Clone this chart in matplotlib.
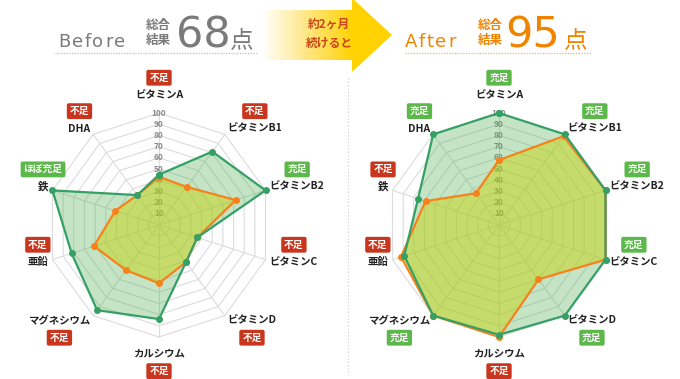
"""
Before / After nutrient radar charts (10 nutrients).
"""

import numpy as np
import matplotlib.pyplot as plt
from matplotlib.patches import Polygon
from matplotlib.colors import LinearSegmentedColormap

plt.rcParams["font.family"] = ["Noto Sans CJK JP", "DejaVu Sans"]

# --- data ---
categories = ["ビタミンA", "ビタミンB1", "ビタミンB2", "ビタミンC", "ビタミンD",
              "カルシウム", "マグネシウム", "亜鉛", "鉄", "DHA"]
ticks = [10, 20, 30, 40, 50, 60, 70, 80, 90, 100]

before_green = [45, 81, 100, 36, 41, 84, 94, 82, 100, 33]
before_orange = [43, 42, 72, 36, 41, 52, 50, 61, 41, 33]
before_badges = ["不足", "不足", "充足", "不足", "不足", "不足", "不足", "不足", "ほぼ充足", "不足"]

after_green = [100, 100, 100, 100, 100, 98, 100, 89, 76, 100]
after_orange = [58, 98, 100, 100, 60, 100, 100, 92, 69, 35]
after_badges = ["充足", "充足", "充足", "充足", "充足", "不足", "充足", "不足", "不足", "充足"]

before_score = "68"
after_score = "95"

GREEN = "#35a065"
ORANGE = "#f7821b"
BADGE_RED = "#c8361e"
BADGE_GREEN = "#5cb84a"

W, H = 680, 379
fig = plt.figure(figsize=(W / 100, H / 100), dpi=100)

# background axes in pixel units for header / arrow
bg = fig.add_axes([0, 0, 1, 1])
bg.axis("off")


def xy(values):
    ang = np.deg2rad(np.arange(len(values)) * 36.0)
    v = np.asarray(values, dtype=float)
    return v * np.sin(ang), v * np.cos(ang)


def radar(cx, cy, green, orange, badges):
    half = 150  # px
    scale = 112 / 100  # px per unit
    ax = fig.add_axes([(cx - half) / W, (H - cy - half) / H, 2 * half / W, 2 * half / H])
    lim = half / scale
    ax.set_xlim(-lim, lim)
    ax.set_ylim(-lim, lim)
    ax.axis("off")

    n = len(categories)
    # grid rings and spokes
    for t in ticks:
        gx, gy = xy([t] * n)
        ax.plot(np.append(gx, gx[0]), np.append(gy, gy[0]), color="#dcdcdc", lw=0.8, zorder=1)
    ox, oy = xy([100] * n)
    for i in range(n):
        ax.plot([0, ox[i]], [0, oy[i]], color="#dcdcdc", lw=0.8, zorder=1)
    for t in ticks:
        ax.text(0, t, str(t), ha="center", va="center", fontsize=6, color="#8a8a8a",
                fontweight="bold", zorder=1.5)

    # series
    gx, gy = xy(green)
    px, py = xy(orange)
    ax.fill(gx, gy, color="#4caf50", alpha=0.33, lw=0, zorder=2)
    ax.fill(px, py, color="#c8d200", alpha=0.45, lw=0, zorder=2.1)
    ax.plot(np.append(px, px[0]), np.append(py, py[0]), color=ORANGE, lw=1.6,
            marker="o", ms=4, zorder=3)
    ax.plot(np.append(gx, gx[0]), np.append(gy, gy[0]), color=GREEN, lw=1.6,
            marker="o", ms=4, zorder=4)

    # labels + badges
    for i, (name, badge) in enumerate(zip(categories, badges)):
        a = np.deg2rad(i * 36.0)
        s, c = np.sin(a), np.cos(a)
        if abs(s) < 0.1:
            r, ha = 114, "center"
        else:
            r, ha = 104, ("left" if s > 0 else "right")
        lab = ax.text(r * s, r * c + (2 if c > 0 else -1), name, ha=ha, va="center",
                      fontsize=7.5, fontweight="bold", color="#222", zorder=5)
        above = i not in (4, 5, 6)
        ax.annotate(badge, xy=(0.5, 0.5), xycoords=lab,
                    xytext=(0, 12.5 if above else -12.5), textcoords="offset points",
                    ha="center", va="center", fontsize=7, fontweight="bold", color="white",
                    bbox=dict(boxstyle="round,pad=0.3,rounding_size=0.2",
                              fc=BADGE_RED if badge == "不足" else BADGE_GREEN, ec="none"),
                    zorder=6)
    return ax


radar(159, 225, before_green, before_orange, before_badges)
radar(499, 225, after_green, after_orange, after_badges)


def spaced(x, y, s, gap, **kw):
    # draw a word letter by letter to imitate the wide letter spacing
    r = fig.canvas.get_renderer()
    for ch in s:
        t = bg.text(x, y, ch, **kw)
        bb = t.get_window_extent(renderer=r)
        x += bb.width + gap


# --- header: Before ---
GRAY = "#7a7a7a"
spaced(58, 47, "Before", 1.6, fontsize=13, color=GRAY, va="baseline", ha="left",
       family="DejaVu Sans")
bg.text(158, 26, "総合", fontsize=9, color=GRAY, ha="center", va="center", fontweight="bold")
bg.text(158, 40, "結果", fontsize=9, color=GRAY, ha="center", va="center", fontweight="bold")
bg.text(176, 47, before_score, fontsize=31, color=GRAY, va="baseline", ha="left", family="DejaVu Sans")
bg.text(230, 47, "点", fontsize=17, color=GRAY, va="baseline", ha="left")
bg.plot([55, 258], [53, 53], color="#bdbdbd", lw=0.9, ls=(0, (1, 1.2)))

# --- header: After ---
OR = "#f08300"
spaced(405, 47, "After", 1.6, fontsize=13, color=OR, va="baseline", ha="left",
       family="DejaVu Sans")
bg.text(490, 26, "総合", fontsize=9, color=OR, ha="center", va="center", fontweight="bold")
bg.text(490, 40, "結果", fontsize=9, color=OR, ha="center", va="center", fontweight="bold")
bg.text(505, 47, after_score, fontsize=31, color=OR, va="baseline", ha="left", family="DejaVu Sans")
bg.text(564, 47, "点", fontsize=17, color=OR, va="baseline", ha="left")
bg.plot([405, 592], [53, 53], color="#f5b060", lw=0.9, ls=(0, (1, 1.2)))

# --- arrow with gradient ---
arrow = Polygon([(262, 10), (352, 10), (352, -2), (392, 35), (352, 72), (352, 60), (262, 60)],
                closed=True, fc="none", ec="none", transform=bg.transData)
bg.add_patch(arrow)
cmap = LinearSegmentedColormap.from_list("grad", ["#ffffff", "#ffe680", "#ffd200", "#ffd200"])
grad = np.linspace(0, 1, 256).reshape(1, -1)
im = bg.imshow(grad, cmap=cmap, extent=(262, 400, 75, -5), aspect="auto", zorder=0.5)
im.set_clip_path(arrow)
bg.text(329, 24, "約2ヶ月", fontsize=8.5, color="#c8471b", ha="center", va="center", fontweight="bold")
bg.text(329, 43, "続けると", fontsize=8.5, color="#c8471b", ha="center", va="center", fontweight="bold")

# --- separator ---
bg.plot([348, 348], [78, 375], color="#cccccc", lw=0.8, ls=(0, (1, 2)))

bg.set_xlim(0, W)
bg.set_ylim(H, 0)

fig.savefig("out.png", dpi=100)
